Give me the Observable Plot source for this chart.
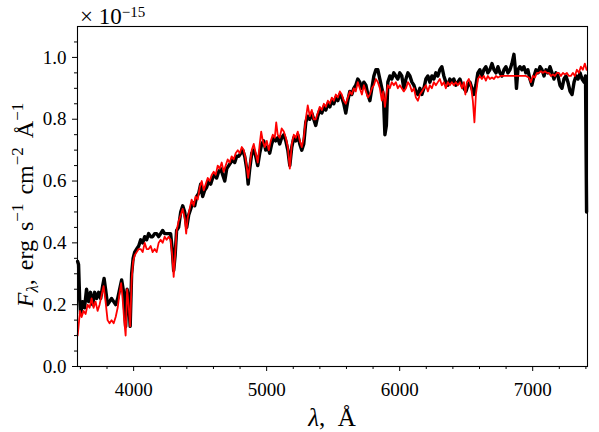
<!DOCTYPE html>
<html><head><meta charset="utf-8">
<script src="https://cdn.jsdelivr.net/npm/d3@7"></script>
<script src="https://cdn.jsdelivr.net/npm/@observablehq/plot@0.6"></script>
<style>
body{margin:0;background:#fff;}
</style></head><body><div id="chart"></div>
<script>
// [wavelength (Å), flux (×1e-15 erg s^-1 cm^-2 Å^-1)]
const blackSpectrum = [[3579,0.34],[3586,0.33],[3594,0.22],[3601,0.17],[3616,0.21],[3631,0.19],[3646,0.25],[3661,0.21],[3676,0.24],[3692,0.20],[3707,0.24],[3722,0.22],[3737,0.24],[3752,0.22],[3767,0.26],[3778,0.285],[3789,0.25],[3804,0.20],[3819,0.21],[3834,0.22],[3850,0.21],[3865,0.20],[3880,0.22],[3895,0.25],[3910,0.28],[3925,0.24],[3940,0.13],[3951,0.25],[3962,0.22],[3974,0.13],[3985,0.30],[3996,0.35],[4008,0.37],[4023,0.38],[4038,0.39],[4053,0.41],[4068,0.40],[4083,0.42],[4098,0.41],[4113,0.43],[4128,0.42],[4143,0.42],[4158,0.43],[4173,0.43],[4188,0.42],[4203,0.43],[4218,0.44],[4233,0.43],[4248,0.43],[4263,0.43],[4278,0.43],[4290,0.38],[4301,0.31],[4312,0.36],[4323,0.44],[4338,0.45],[4354,0.50],[4369,0.52],[4384,0.50],[4399,0.45],[4414,0.49],[4429,0.51],[4444,0.53],[4459,0.52],[4474,0.55],[4489,0.56],[4504,0.59],[4519,0.55],[4534,0.57],[4549,0.58],[4564,0.60],[4579,0.59],[4594,0.61],[4609,0.62],[4624,0.61],[4639,0.63],[4655,0.64],[4670,0.62],[4685,0.60],[4700,0.64],[4715,0.65],[4730,0.66],[4745,0.67],[4760,0.66],[4775,0.68],[4790,0.68],[4805,0.69],[4820,0.70],[4835,0.68],[4850,0.64],[4861,0.59],[4873,0.64],[4888,0.69],[4903,0.70],[4918,0.68],[4933,0.65],[4948,0.69],[4963,0.72],[4978,0.73],[4993,0.70],[5008,0.71],[5023,0.69],[5038,0.72],[5053,0.74],[5068,0.73],[5083,0.74],[5098,0.72],[5113,0.74],[5129,0.75],[5144,0.73],[5159,0.70],[5174,0.65],[5189,0.71],[5204,0.74],[5219,0.73],[5234,0.75],[5249,0.72],[5264,0.70],[5279,0.72],[5294,0.79],[5309,0.81],[5324,0.80],[5339,0.82],[5354,0.80],[5369,0.78],[5384,0.81],[5399,0.83],[5415,0.82],[5430,0.84],[5445,0.83],[5460,0.85],[5475,0.84],[5490,0.86],[5505,0.85],[5520,0.87],[5535,0.86],[5550,0.88],[5565,0.87],[5580,0.85],[5595,0.82],[5610,0.86],[5625,0.89],[5640,0.88],[5655,0.90],[5670,0.91],[5685,0.93],[5700,0.92],[5716,0.90],[5731,0.92],[5746,0.91],[5761,0.88],[5776,0.86],[5791,0.90],[5806,0.94],[5821,0.96],[5836,0.96],[5851,0.93],[5866,0.90],[5877,0.88],[5889,0.75],[5900,0.78],[5911,0.92],[5926,0.94],[5941,0.93],[5956,0.95],[5971,0.94],[5986,0.93],[6001,0.95],[6016,0.94],[6031,0.90],[6047,0.93],[6062,0.95],[6077,0.94],[6092,0.92],[6107,0.91],[6122,0.89],[6137,0.88],[6152,0.90],[6167,0.88],[6182,0.90],[6197,0.93],[6212,0.94],[6227,0.92],[6242,0.94],[6257,0.93],[6272,0.95],[6287,0.94],[6302,0.96],[6317,0.97],[6332,0.94],[6347,0.92],[6362,0.91],[6377,0.93],[6392,0.92],[6407,0.93],[6422,0.91],[6437,0.92],[6453,0.93],[6468,0.91],[6483,0.90],[6498,0.89],[6513,0.91],[6528,0.92],[6543,0.90],[6558,0.88],[6573,0.91],[6588,0.95],[6603,0.96],[6618,0.94],[6633,0.96],[6648,0.97],[6663,0.95],[6678,0.96],[6694,0.98],[6709,0.96],[6724,0.95],[6739,0.97],[6754,0.95],[6769,0.94],[6784,0.96],[6799,0.97],[6814,0.95],[6829,0.96],[6844,0.98],[6859,1.01],[6870,0.96],[6878,0.90],[6889,0.96],[6904,0.97],[6919,0.96],[6934,0.97],[6949,0.95],[6964,0.96],[6979,0.93],[6994,0.91],[7010,0.94],[7025,0.96],[7040,0.95],[7055,0.97],[7070,0.96],[7085,0.94],[7100,0.96],[7115,0.95],[7130,0.97],[7145,0.95],[7160,0.93],[7175,0.95],[7190,0.94],[7205,0.91],[7220,0.90],[7235,0.93],[7250,0.94],[7265,0.92],[7281,0.89],[7296,0.88],[7311,0.92],[7326,0.94],[7341,0.93],[7356,0.95],[7371,0.93],[7386,0.92],[7397,0.94],[7405,0.50]];

const redSpectrum = [[3579,0.10],[3586,0.13],[3597,0.18],[3609,0.16],[3624,0.18],[3639,0.17],[3654,0.20],[3669,0.19],[3684,0.22],[3699,0.19],[3714,0.21],[3729,0.18],[3744,0.20],[3759,0.23],[3774,0.26],[3789,0.21],[3804,0.15],[3819,0.14],[3834,0.15],[3850,0.14],[3865,0.16],[3880,0.19],[3895,0.24],[3906,0.27],[3917,0.22],[3929,0.15],[3940,0.10],[3951,0.25],[3962,0.20],[3974,0.13],[3985,0.28],[3996,0.34],[4008,0.36],[4023,0.37],[4038,0.38],[4053,0.38],[4068,0.37],[4083,0.40],[4098,0.38],[4113,0.38],[4128,0.39],[4143,0.37],[4158,0.38],[4173,0.37],[4188,0.40],[4203,0.41],[4218,0.40],[4233,0.42],[4248,0.41],[4263,0.42],[4278,0.41],[4290,0.36],[4301,0.29],[4312,0.36],[4323,0.44],[4338,0.47],[4354,0.49],[4369,0.51],[4384,0.48],[4395,0.43],[4406,0.48],[4421,0.51],[4436,0.54],[4451,0.52],[4466,0.55],[4482,0.54],[4497,0.58],[4512,0.60],[4527,0.57],[4542,0.59],[4557,0.61],[4572,0.60],[4587,0.62],[4602,0.63],[4617,0.62],[4632,0.65],[4647,0.64],[4662,0.66],[4677,0.63],[4692,0.65],[4707,0.67],[4722,0.66],[4737,0.68],[4752,0.67],[4767,0.69],[4783,0.70],[4798,0.69],[4813,0.71],[4828,0.70],[4843,0.67],[4861,0.61],[4873,0.65],[4888,0.70],[4903,0.72],[4918,0.69],[4933,0.66],[4948,0.72],[4959,0.76],[4971,0.73],[4986,0.71],[5001,0.73],[5016,0.70],[5031,0.73],[5046,0.75],[5061,0.74],[5072,0.79],[5083,0.75],[5098,0.74],[5113,0.77],[5129,0.76],[5144,0.74],[5159,0.71],[5174,0.64],[5189,0.72],[5204,0.75],[5219,0.74],[5234,0.76],[5249,0.73],[5264,0.71],[5279,0.74],[5294,0.80],[5309,0.845],[5324,0.81],[5339,0.83],[5354,0.80],[5369,0.80],[5384,0.82],[5399,0.84],[5415,0.83],[5430,0.85],[5445,0.84],[5460,0.86],[5475,0.85],[5490,0.87],[5505,0.86],[5520,0.88],[5535,0.87],[5550,0.89],[5565,0.88],[5580,0.86],[5595,0.85],[5610,0.87],[5625,0.89],[5640,0.88],[5655,0.90],[5670,0.89],[5685,0.92],[5700,0.90],[5716,0.88],[5731,0.91],[5746,0.89],[5761,0.87],[5776,0.88],[5791,0.90],[5806,0.91],[5821,0.93],[5836,0.92],[5851,0.90],[5866,0.86],[5877,0.89],[5889,0.84],[5900,0.88],[5911,0.91],[5926,0.90],[5941,0.92],[5956,0.91],[5971,0.92],[5986,0.90],[6001,0.91],[6016,0.90],[6031,0.89],[6047,0.90],[6062,0.92],[6077,0.91],[6092,0.89],[6107,0.90],[6122,0.87],[6137,0.86],[6152,0.88],[6167,0.89],[6182,0.90],[6197,0.91],[6212,0.89],[6227,0.91],[6242,0.90],[6257,0.92],[6272,0.91],[6287,0.92],[6302,0.93],[6317,0.91],[6332,0.92],[6347,0.90],[6362,0.92],[6377,0.91],[6392,0.92],[6407,0.91],[6422,0.92],[6437,0.91],[6453,0.92],[6468,0.90],[6483,0.92],[6494,0.88],[6505,0.92],[6520,0.93],[6535,0.91],[6550,0.86],[6562,0.79],[6573,0.88],[6588,0.93],[6603,0.94],[6618,0.93],[6633,0.94],[6648,0.925],[6663,0.94],[6678,0.93],[6694,0.935],[6709,0.93],[6724,0.94],[6739,0.935],[6761,0.94],[6799,0.94],[6837,0.94],[6874,0.94],[6912,0.94],[6949,0.94],[6971,0.935],[6986,0.92],[7001,0.94],[7016,0.935],[7032,0.95],[7047,0.95],[7062,0.955],[7077,0.95],[7092,0.955],[7107,0.95],[7122,0.95],[7137,0.94],[7152,0.945],[7167,0.94],[7182,0.95],[7197,0.95],[7212,0.94],[7227,0.95],[7242,0.945],[7257,0.95],[7272,0.94],[7287,0.94],[7302,0.95],[7317,0.94],[7332,0.96],[7347,0.95],[7362,0.97],[7377,0.96],[7392,0.98],[7405,0.96]];

const xMajorTicks = [4000, 5000, 6000, 7000];
const xMinorTicks = [3600, 3800, 4200, 4400, 4600, 4800, 5200, 5400, 5600, 5800, 6200, 6400, 6600, 6800, 7200, 7400];
const yMajorTicks = [0, 0.2, 0.4, 0.6, 0.8, 1.0];
const yMinorTicks = [0.05, 0.1, 0.15, 0.25, 0.3, 0.35, 0.45, 0.5, 0.55, 0.65, 0.7, 0.75, 0.85, 0.9, 0.95, 1.05];
const xDomain = [3578, 7412];
const yDomain = [0, 1.1];

const toRows = s => s.map(([w, f]) => ({w, f}));
const black = toRows(blackSpectrum);
const red = toRows(redSpectrum);

const W = 599, H = 432, mL = 77, mR = 12, mT = 26, mB = 66;
const font = "'Liberation Serif', 'Times New Roman', serif";

const chart = Plot.plot({
  width: W, height: H,
  marginLeft: mL, marginRight: mR, marginTop: mT, marginBottom: mB,
  style: {fontFamily: font, fontSize: "17px", background: "white", color: "black", overflow: "visible"},
  x: {domain: xDomain, label: null},
  y: {domain: yDomain, label: null},
  marks: [
    Plot.line(black, {x: "w", y: "f", stroke: "black", strokeWidth: 3.4, strokeLinejoin: "round"}),
    Plot.line(red, {x: "w", y: "f", stroke: "#ff0000", strokeWidth: 1.8, strokeLinejoin: "round"}),
    Plot.frame({stroke: "black", strokeWidth: 1.1}),
    Plot.axisX(xMinorTicks, {tickSize: 3, tickFormat: () => "", label: null, strokeWidth: 1}),
    Plot.axisX(xMajorTicks, {tickSize: 5, tickPadding: 11, tickFormat: d => String(d), label: null, strokeWidth: 1, fontSize: 19}),
    Plot.axisY(yMinorTicks, {tickSize: 3, tickFormat: () => "", label: null, strokeWidth: 1}),
    Plot.axisY(yMajorTicks, {tickSize: 5, tickPadding: 6, tickFormat: d => d.toFixed(1), label: null, strokeWidth: 1, fontSize: 19})
  ]
});
document.getElementById("chart").appendChild(chart);

const svg = d3.select(chart);
const addText = (x, y, size, anchor) => svg.append("text")
  .attr("x", x).attr("y", y).attr("text-anchor", anchor)
  .style("font-size", size + "px").style("font-family", font).attr("fill", "black");
const sup = (t, s, txt, size) => t.append("tspan").attr("dy", s).style("font-size", size + "px").text(txt);

// x label
const xl = addText((mL + W - mR) / 2, 426, 25, "middle");
xl.append("tspan").style("font-style", "italic").text("λ");
xl.append("tspan").text(",  Å");

// y label
const yl = svg.append("text").attr("transform", `translate(33,205) rotate(-90)`)
  .attr("text-anchor", "middle").style("font-size", "24px").style("font-family", font)
  .style("word-spacing", "3px").attr("fill", "black");
yl.append("tspan").style("font-style", "italic").text("F");
sup(yl, 5, "λ", 17).style("font-style", "italic");
yl.append("tspan").attr("dy", -5).text(", erg s");
sup(yl, -10, "−1", 17);
yl.append("tspan").attr("dy", 10).text(" cm");
sup(yl, -10, "−2", 17);
yl.append("tspan").attr("dy", 10).text(" Å");
sup(yl, -10, "−1", 17);

// offset text
const ot = addText(80, 24, 23, "start");
ot.append("tspan").text("× 10");
sup(ot, -7, "−15", 15);

svg.selectAll("g[aria-label^='y-axis'] text, g[aria-label^='x-axis'] text").style("font-family", font);
</script>
</body></html>
